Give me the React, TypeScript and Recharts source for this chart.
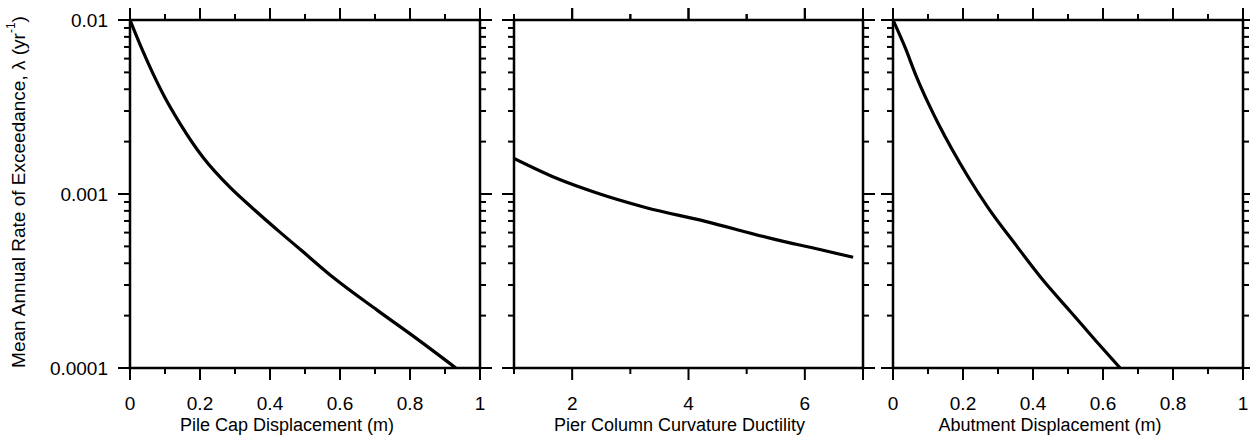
import { LineChart, Line, XAxis, YAxis, ReferenceLine } from 'recharts';

const pileCapDisp = [0, 0.034, 0.066, 0.097, 0.143, 0.209, 0.286, 0.351, 0.429, 0.486, 0.58, 0.706, 0.82, 0.931];
const pileCapRate = [0.01, 0.00682, 0.0049, 0.00367, 0.00254, 0.00162, 0.00109, 0.000826, 0.000602, 0.000481, 0.000332, 0.000215, 0.000147, 0.0001];

const ductility = [1.0, 1.71, 2.4, 3.26, 4.29, 5.45, 6.24, 6.83];
const ductilityRate = [0.0016, 0.00124, 0.00102, 0.000837, 0.000696, 0.000552, 0.000481, 0.000433];

const abutDisp = [0, 0.034, 0.066, 0.1, 0.131, 0.169, 0.214, 0.271, 0.354, 0.429, 0.506, 0.58, 0.649];
const abutRate = [0.01, 0.007, 0.00478, 0.00335, 0.0025, 0.0018, 0.00126, 0.000837, 0.0005, 0.000319, 0.000212, 0.000143, 0.0001];

const dispTicks = [0, 0.1, 0.2, 0.3, 0.4, 0.5, 0.6, 0.7, 0.8, 0.9, 1];
const dispMajor = [0, 0.2, 0.4, 0.6, 0.8, 1];
const ductTicks = [1, 2, 3, 4, 5, 6, 7];
const ductMajor = [2, 4, 6, 7];
const ductLabels = [2, 4, 6];
const rateTicks = [
  0.0001, 0.0002, 0.0003, 0.0004, 0.0005, 0.0006, 0.0007, 0.0008, 0.0009,
  0.001, 0.002, 0.003, 0.004, 0.005, 0.006, 0.007, 0.008, 0.009, 0.01,
];
const rateMajor = [0.0001, 0.001, 0.01];
const rateDomain = [0.0001, 0.01];

const FONT = '"Liberation Sans", Arial, Helvetica, sans-serif';
const H = 436;
const TOP = 20;
const BOTTOM = 68;
const PLOT_H = H - TOP - BOTTOM;

const near = (list: number[], v: number) => list.some((m) => Math.abs(m - v) < 1e-9);

function bottomTick(major: number[], labels: number[]) {
  return (props: any) => {
    const { x, y, payload } = props;
    const v = payload.value as number;
    const len = near(major, v) ? 12 : 6;
    const top = Number(y) - PLOT_H;
    return (
      <g stroke="#000" strokeWidth={2}>
        <line x1={x} y1={y} x2={x} y2={Number(y) + len} />
        <line x1={x} y1={top} x2={x} y2={top - len} />
        {near(labels, v) && (
          <text x={x} y={Number(y) + 42} textAnchor="middle" fill="#000" stroke="none" fontSize={19} fontFamily={FONT}>
            {String(v)}
          </text>
        )}
      </g>
    );
  };
}

// short mark standing on the top edge of the frame
function topMark(len: number) {
  return (p: any) => {
    const top = Math.min(Number(p.y1), Number(p.y2));
    return <line x1={p.x1} y1={top} x2={p.x1} y2={top - len} stroke="#000" strokeWidth={2} />;
  };
}

function sideTick(side: 'left' | 'right', labels: number[]) {
  return (props: any) => {
    const { x, y, payload } = props;
    const v = payload.value as number;
    const len = near(rateMajor, v) ? 12 : 6;
    const x2 = side === 'left' ? Number(x) - len : Number(x) + len;
    return (
      <g stroke="#000" strokeWidth={2}>
        <line x1={x} y1={y} x2={x2} y2={y} />
        {near(labels, v) && (
          <text x={Number(x) - 22} y={Number(y) + 7} textAnchor="end" fill="#000" stroke="none" fontSize={19} fontFamily={FONT}>
            {String(v)}
          </text>
        )}
      </g>
    );
  };
}

function xTitle(text: string, cx: number) {
  return () => (
    <text x={cx} y={H - 5} textAnchor="middle" fill="#000" fontSize={18} fontFamily={FONT}>
      {text}
    </text>
  );
}

function yTitle() {
  const cx = 18;
  const cy = 192;
  return (
    <text
      x={cx}
      y={cy}
      transform={`rotate(-90 ${cx} ${cy})`}
      textAnchor="middle"
      dominantBaseline="central"
      fill="#000"
      fontSize={19}
      fontFamily={FONT}
    >
      Mean Annual Rate of Exceedance, λ (yr
      <tspan fontSize={12} dy={-7}>-1</tspan>
      <tspan dy={7}>)</tspan>
    </text>
  );
}

const axisLine = { stroke: '#000', strokeWidth: 2.5, strokeLinecap: 'square' as const };

interface PanelProps {
  left: number;
  leftAxis: number;
  plotW: number;
  rightAxis: number;
  xs: number[];
  ys: number[];
  domain: [number, number];
  ticks: number[];
  major: number[];
  labels: number[];
  title: string;
  titleDx: number;
  first?: boolean;
}

function Panel({ left, leftAxis, plotW, rightAxis, xs, ys, domain, ticks, major, labels, title, titleDx, first }: PanelProps) {
  const data = xs.map((x, i) => ({ x, rate: ys[i] }));
  const width = leftAxis + plotW + rightAxis;
  return (
    <div style={{ position: 'absolute', left, top: 0 }}>
      <LineChart width={width} height={H} data={data} margin={{ top: TOP, right: 0, bottom: 0, left: 0 }}>
        <XAxis
          xAxisId="b"
          dataKey="x"
          type="number"
          domain={domain}
          allowDataOverflow
          ticks={ticks}
          interval={0}
          tickSize={0}
          tickMargin={0}
          height={BOTTOM}
          axisLine={axisLine}
          tickLine={false}
          tick={bottomTick(major, labels)}
          label={xTitle(title, leftAxis + plotW / 2 + titleDx)}
        />
        <YAxis
          yAxisId="l"
          scale="log"
          type="number"
          domain={rateDomain}
          allowDataOverflow
          ticks={rateTicks}
          interval={0}
          tickSize={0}
          tickMargin={0}
          width={leftAxis}
          axisLine={axisLine}
          tickLine={false}
          tick={sideTick('left', first ? rateMajor : [])}
          label={first ? yTitle : undefined}
        />
        <YAxis
          yAxisId="r"
          orientation="right"
          scale="log"
          type="number"
          domain={rateDomain}
          allowDataOverflow
          ticks={rateTicks}
          interval={0}
          tickSize={0}
          tickMargin={0}
          width={rightAxis}
          axisLine={axisLine}
          tickLine={false}
          tick={sideTick('right', [])}
        />
        {/* top edge of the frame and its tick marks */}
        <ReferenceLine xAxisId="b" yAxisId="l" y={rateDomain[1]} stroke="#000" strokeWidth={2.5} ifOverflow="visible" />
        {ticks.map((v) => (
          <ReferenceLine
            key={`top-${v}`}
            xAxisId="b"
            yAxisId="l"
            x={v}
            ifOverflow="visible"
            shape={topMark(near(major, v) ? 12 : 6)}
          />
        ))}
        <Line
          xAxisId="b"
          yAxisId="l"
          type="monotone"
          dataKey="rate"
          stroke="#000"
          strokeWidth={3.2}
          dot={false}
          isAnimationActive={false}
        />
      </LineChart>
    </div>
  );
}

export default function App() {
  return (
    <div style={{ position: 'absolute', left: 0, top: 0, width: 1250, height: H, background: '#fff', overflow: 'hidden' }}>
      <Panel
        left={0}
        leftAxis={130}
        plotW={350}
        rightAxis={20}
        xs={pileCapDisp}
        ys={pileCapRate}
        domain={[0, 1]}
        ticks={dispTicks}
        major={dispMajor}
        labels={dispMajor}
        title="Pile Cap Displacement (m)"
        titleDx={-18}
        first
      />
      <Panel
        left={494}
        leftAxis={20}
        plotW={349}
        rightAxis={20}
        xs={ductility}
        ys={ductilityRate}
        domain={[1, 7]}
        ticks={ductTicks}
        major={ductMajor}
        labels={ductLabels}
        title="Pier Column Curvature Ductility"
        titleDx={-9}
      />
      <Panel
        left={873}
        leftAxis={20}
        plotW={350}
        rightAxis={7}
        xs={abutDisp}
        ys={abutRate}
        domain={[0, 1]}
        ticks={dispTicks}
        major={dispMajor}
        labels={dispMajor}
        title="Abutment Displacement (m)"
        titleDx={-18}
      />
    </div>
  );
}
